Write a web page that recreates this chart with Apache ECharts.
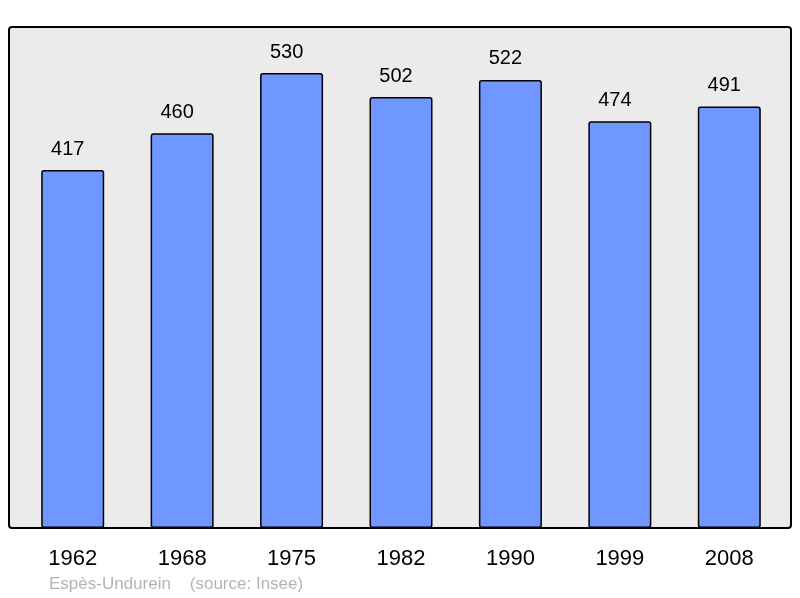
<!DOCTYPE html>
<html><head><meta charset="utf-8">
<script src="https://cdn.jsdelivr.net/npm/echarts@6/dist/echarts.min.js"></script>
<style>html,body{margin:0;padding:0;background:#fff}#c{width:800px;height:598px}</style>
</head><body><div id="c"></div>
<script>
const years = ['1962','1968','1975','1982','1990','1999','2008'];
const population = [417,460,530,502,522,474,491];
const footer = 'Espès-Undurein    (source: Insee)';

const chart = echarts.init(document.getElementById('c'), null, {renderer:'canvas'});
chart.setOption({
  animation:false,
  backgroundColor:'#ffffff',
  graphic:[
    {type:'rect', z:-10, shape:{x:9,y:27,width:782,height:501,r:3},
     style:{fill:'#ebebeb',stroke:'#000',lineWidth:2}},
    {type:'text', left:49, top:576, style:{text:footer, fill:'#b3b3b3', font:'17px "Liberation Sans", Arial, sans-serif'}}
  ],
  grid:{left:18,right:16,top:13,bottom:70},
  xAxis:{type:'category',data:years,
    axisLine:{show:false},axisTick:{show:false},
    axisLabel:{color:'#000',fontSize:22,fontFamily:'Liberation Sans',margin:20}},
  yAxis:{type:'value',min:0,max:600,show:false,splitLine:{show:false}},
  series:[{type:'bar',data:population,barWidth:63,
    itemStyle:{color:'#7096ff',borderColor:'#000',borderWidth:1.5,borderRadius:2},
    label:{show:true,position:'top',distance:11,offset:[-5,0],color:'#000',fontSize:20,fontFamily:'Liberation Sans'}}]
});
</script></body></html>
